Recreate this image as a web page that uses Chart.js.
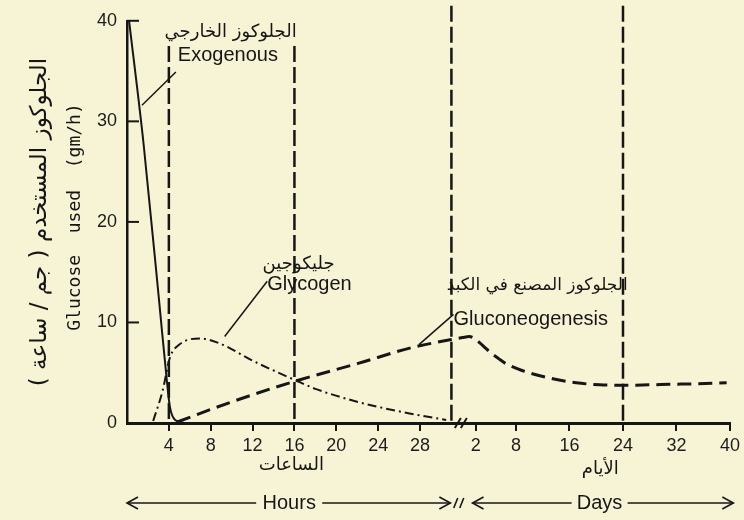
<!DOCTYPE html>
<html><head><meta charset="utf-8">
<script src="https://cdn.jsdelivr.net/npm/chart.js@4/dist/chart.umd.min.js"></script>
<style>html,body{margin:0;padding:0;background:#f7f4d6;overflow:hidden}#wrap{width:744px;height:520px}</style>
</head><body><div id="wrap"><canvas id="c" width="744" height="520"></canvas></div>
<script>
// ---------- data ----------
const hourTicks = [4, 8, 12, 16, 20, 24, 28];
const dayTicks = [2, 8, 16, 24, 32, 40];

const exogenousHours  = [0.2, 1.6, 3.1, 3.8, 4.1, 4.6, 5.6];
const exogenousValues = [40, 27.6, 11.8, 4.3, 1.6, 0.3, 0];

const glycogenHours  = [2.5, 3.4, 4.1, 5, 7, 8.9, 12, 16.2, 18, 21, 24, 27, 28.9, 30.5];
const glycogenValues = [0.2, 3.2, 6.5, 7.8, 8.4, 7.9, 6.2, 4.2, 3.4, 2.4, 1.6, 0.95, 0.6, 0.3];

const gluconeoHours      = [4.8, 10, 16.2, 22, 27.2, 31];
const gluconeoHourValues = [0.1, 2.1, 4.2, 5.9, 7.5, 8.3];
const gluconeoDays       = [0, 1, 2, 3.2, 4.2, 5.4, 6.5, 9, 13.5, 17, 20.5, 24, 28, 31, 35, 39.5];
const gluconeoDayValues  = [8.5, 8.6, 8.3, 7.6, 7.0, 6.4, 5.9, 5.2, 4.4, 4.0, 3.8, 3.75, 3.8, 3.85, 3.9, 4.0];

const markerHours = [4, 16, 31];
const markerDays = [24];

// ---------- axis mapping (hours segment, break, days segment) ----------
const DAY_ORIGIN = 32.06, DAY_SCALE = 0.639;
const hourPos = h => h;
const dayPos = d => DAY_ORIGIN + d * DAY_SCALE;

const zip = (xs, ys, f) => xs.map((x, i) => ({x: f(x), y: ys[i]}));
const tickValues = hourTicks.map(hourPos).concat(dayTicks.map(dayPos));
const tickLabels = hourTicks.map(String).concat(dayTicks.map(String));

const INK = '#161616';
const LATIN = '"Liberation Sans", Arial, sans-serif';
const ARABIC = '"DejaVu Sans", sans-serif';

const bgPlugin = {
  id: 'bg',
  beforeDraw(chart) {
    const c = chart.ctx; c.save(); c.fillStyle = '#f7f4d6';
    c.fillRect(0, 0, chart.width, chart.height); c.restore();
  }
};

const annotPlugin = {
  id: 'annot',
  afterDatasetsDraw(chart) {
    const c = chart.ctx, xs = chart.scales.x, ys = chart.scales.y;
    const X = u => xs.getPixelForValue(u), Y = v => ys.getPixelForValue(v);
    const bottom = Y(0), left = xs.left;
    c.save();
    c.strokeStyle = INK; c.fillStyle = INK; c.lineCap = 'butt';
    // inward y ticks
    c.lineWidth = 2;
    [10, 20, 30, 40].forEach(v => { c.beginPath(); c.moveTo(left, Y(v)); c.lineTo(left + 12, Y(v)); c.stroke(); });
    // vertical dashed markers
    c.setLineDash([16, 5]); c.lineWidth = 2.5;
    const markers = markerHours.map(h => ({u: hourPos(h), top: h < 30 ? 37.5 : 41.5}))
      .concat(markerDays.map(d => ({u: dayPos(d), top: 41.5})));
    markers.forEach(m => { c.beginPath(); c.moveTo(X(m.u), Y(m.top)); c.lineTo(X(m.u), bottom); c.stroke(); });
    c.setLineDash([]);
    // axis break marks
    c.lineWidth = 2;
    const bx = X(31.9);
    [-3, 3].forEach(o => { c.beginPath(); c.moveTo(bx + o - 3, bottom + 5); c.lineTo(bx + o + 3, bottom - 5); c.stroke(); });
    // leader lines
    c.lineWidth = 1.5;
    [[1.43, 31.6, 4.67, 34.9], [9.33, 8.6, 13.4, 14.1], [27.9, 7.8, 31.2, 10.8]].forEach(l => {
      c.beginPath(); c.moveTo(X(l[0]), Y(l[1])); c.lineTo(X(l[2]), Y(l[3])); c.stroke();
    });
    // curve labels
    c.textBaseline = 'middle';
    c.font = '20px ' + LATIN; c.textAlign = 'left'; c.direction = 'ltr';
    c.fillText('Exogenous', X(4.86), Y(36.6));
    c.fillText('Glycogen', X(13.4), Y(13.8));
    c.fillText('Gluconeogenesis', X(31.2), Y(10.3));
    c.font = '18px ' + ARABIC; c.textAlign = 'center'; c.direction = 'rtl';
    c.fillText('الجلوكوز الخارجي', X(9.9), Y(38.9));
    c.fillText('جليكوجين', X(16.4), Y(15.8));
    c.font = '17px ' + ARABIC;
    c.fillText('الجلوكوز المصنع في الكبد', X(39.2), Y(13.7));
    // axis unit labels (Arabic)
    c.font = '18px ' + ARABIC;
    c.fillText('الساعات', X(15.7), 465);
    c.fillText('الأيام', X(dayPos(20.6)), 469);
    // Hours / Days arrows
    c.direction = 'ltr'; c.font = '20px ' + LATIN;
    const ay = 503;
    const arrow = (x1, x2, headLeft, headRight) => {
      c.beginPath(); c.moveTo(x1, ay); c.lineTo(x2, ay); c.stroke();
      if (headLeft) { c.beginPath(); c.moveTo(x1 + 11, ay - 6); c.lineTo(x1, ay); c.lineTo(x1 + 11, ay + 6); c.stroke(); }
      if (headRight) { c.beginPath(); c.moveTo(x2 - 11, ay - 6); c.lineTo(x2, ay); c.lineTo(x2 - 11, ay + 6); c.stroke(); }
    };
    c.lineWidth = 1.6;
    const hx = X(15.5);
    c.fillText('Hours', hx, ay);
    arrow(X(0), hx - 33, true, false);
    arrow(hx + 33, X(30.9), false, true);
    const dx = X(dayPos(20.5));
    c.fillText('Days', dx, ay);
    arrow(X(dayPos(1.5)), dx - 28, true, false);
    arrow(dx + 28, X(dayPos(40.5)), false, true);
    // break marks on arrow row
    const b2 = X(31.7);
    [-3, 3].forEach(o => { c.beginPath(); c.moveTo(b2 + o - 2, ay + 5); c.lineTo(b2 + o + 2, ay - 5); c.stroke(); });
    // y titles
    c.save(); c.translate(40, 222); c.rotate(-Math.PI / 2);
    c.font = '23px ' + ARABIC; c.direction = 'rtl'; c.textAlign = 'center';
    c.fillText('الجلوكوز المستخدم ( جم / ساعة )', 0, 0);
    c.restore();
    c.save(); c.translate(75, 217); c.rotate(-Math.PI / 2);
    c.font = '18px "DejaVu Sans Mono", monospace'; c.textAlign = 'center'; c.direction = 'ltr';
    c.fillText('Glucose  used  (gm/h)', 0, 0);
    c.restore();
    c.restore();
  }
};

new Chart(document.getElementById('c'), {
  type: 'line',
  data: {
    datasets: [
      { label: 'Exogenous', data: zip(exogenousHours, exogenousValues, hourPos),
        borderColor: INK, borderWidth: 2, pointRadius: 0, cubicInterpolationMode: 'monotone' },
      { label: 'Glycogen', data: zip(glycogenHours, glycogenValues, hourPos),
        borderColor: INK, borderWidth: 2, borderDash: [9, 4, 2, 4], pointRadius: 0, cubicInterpolationMode: 'monotone' },
      { label: 'Gluconeogenesis',
        data: zip(gluconeoHours, gluconeoHourValues, hourPos).concat(zip(gluconeoDays, gluconeoDayValues, dayPos)),
        borderColor: INK, borderWidth: 3, borderDash: [14, 7], pointRadius: 0, cubicInterpolationMode: 'monotone' }
    ]
  },
  options: {
    responsive: false, animation: false, devicePixelRatio: 1,
    layout: { padding: { top: 14, right: 12, left: 0, bottom: 0 } },
    plugins: { legend: { display: false }, tooltip: { enabled: false } },
    scales: {
      x: {
        type: 'linear', min: 0, max: dayPos(40),
        afterBuildTicks: s => { s.ticks = tickValues.map(v => ({ value: v })); },
        afterFit: s => { s.height = 97; },
        ticks: { autoSkip: false, maxRotation: 0, padding: 4, color: '#1c1c1c',
          font: { family: LATIN, size: 18 },
          callback: (v, i) => tickLabels[i] },
        grid: { drawOnChartArea: false, color: INK, lineWidth: 2, tickLength: 8 },
        border: { color: INK, width: 3 }
      },
      y: {
        min: 0, max: 40,
        afterFit: s => { s.width = 127; },
        ticks: { stepSize: 10, padding: 10, color: '#1c1c1c', font: { family: LATIN, size: 18 } },
        grid: { display: false, drawTicks: false },
        border: { color: INK, width: 2.5 }
      }
    }
  },
  plugins: [bgPlugin, annotPlugin]
});
</script></body></html>
